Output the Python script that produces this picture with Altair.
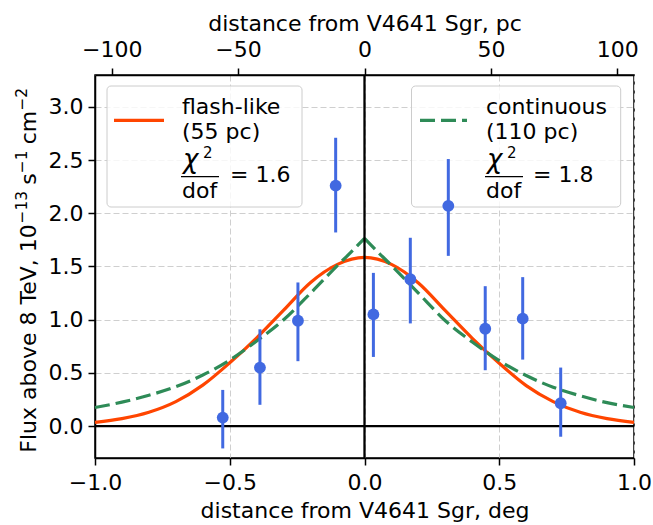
import altair as alt
import pandas as pd

# ---- data ----
pt_x = [-0.526, -0.388, -0.247, -0.107, 0.033, 0.170, 0.311, 0.448, 0.587, 0.728]
pt_flux = [0.08, 0.55, 0.99, 2.26, 1.05, 1.38, 2.07, 0.915, 1.01, 0.215]
pt_lo = [-0.21, 0.20, 0.61, 1.82, 0.65, 0.965, 1.60, 0.525, 0.625, -0.10]
pt_hi = [0.34, 0.91, 1.35, 2.71, 1.44, 1.77, 2.51, 1.315, 1.40, 0.55]

flash_x = [-1.0, -0.9, -0.8, -0.7, -0.6, -0.5, -0.4, -0.3, -0.2, -0.1, 0.0,
           0.1, 0.2, 0.3, 0.4, 0.5, 0.6, 0.7, 0.8, 0.9, 1.0]
flash_y = [0.035, 0.07, 0.13, 0.23, 0.385, 0.595, 0.83, 1.09, 1.35, 1.52, 1.585,
           1.52, 1.345, 1.085, 0.825, 0.59, 0.38, 0.23, 0.13, 0.07, 0.035]

cont_x = [-1.0, -0.9, -0.8, -0.7, -0.6, -0.5, -0.4, -0.3, -0.2, -0.1, -0.05, 0.0,
          0.0, 0.05, 0.1, 0.2, 0.3, 0.4, 0.5, 0.6, 0.7, 0.8, 0.9, 1.0]
cont_y = [0.175, 0.225, 0.29, 0.37, 0.48, 0.62, 0.80, 1.00, 1.25, 1.51, 1.635, 1.765,
          1.765, 1.635, 1.51, 1.25, 0.99, 0.79, 0.615, 0.475, 0.365, 0.285, 0.22, 0.175]
cont_side = ["L"] * 12 + ["R"] * 12

x_ticks = [-1.0, -0.5, 0.0, 0.5, 1.0]
y_ticks = [0.0, 0.5, 1.0, 1.5, 2.0, 2.5, 3.0]
pc_ticks = [-100, -50, 0, 50, 100]
pc_per_deg = 106.6

# y title pieces: (text, is_superscript, advance width in em of the piece)
ytitle_parts = [
    ("Flux above 8 TeV, 10", False, 10.42),
    ("−13", True, 2.08),
    ("s", False, 0.53),
    ("−1", True, 1.45),
    ("cm", False, 1.53),
    ("−2", True, 1.45),
]
ytitle_lead = [0.0, 0.0, 0.30, 0.0, 0.30, 0.0]  # leading space (em, main size)

FONT = "DejaVu Sans"
ORANGE = "#FF4500"
GREEN = "#2E8B57"
BLUE = "#4169E1"
W, H = 539, 383
FS = 22
SUP = 15.4

pts = pd.DataFrame({"x": pt_x, "y": pt_flux, "lo": pt_lo, "hi": pt_hi})
flash = pd.DataFrame({"x": flash_x, "y": flash_y})
cont = pd.DataFrame({"x": cont_x, "y": cont_y, "side": cont_side})
zero = pd.DataFrame({"x": [0.0], "y": [0.0]})
one = pd.DataFrame({"a": [0]})


def xenc(field="x"):
    return alt.X(
        f"{field}:Q",
        scale=alt.Scale(domain=[-1, 1], nice=False, zero=False),
        axis=alt.Axis(
            values=x_ticks, format=".1f", title="distance from V4641 Sgr, deg",
            labelFlush=False, labelOverlap=False, labelBaseline="alphabetic",
            labelPadding=24, titleBaseline="alphabetic", titleY=59, titleX=W / 2,
        ),
    )


def yenc(field="y"):
    return alt.Y(
        f"{field}:Q",
        scale=alt.Scale(domain=[-0.3, 3.3], nice=False, zero=False),
        axis=alt.Axis(values=y_ticks, format=".1f", title=None, labelPadding=5,
                      labelFlush=False),
    )


flash_line = alt.Chart(flash).mark_line(
    color=ORANGE, strokeWidth=3.2, interpolate="monotone"
).encode(x=xenc(), y=yenc())

cont_line = alt.Chart(cont).mark_line(
    color=GREEN, strokeWidth=3.2, strokeDash=[15, 6], interpolate="monotone"
).encode(x=xenc(), y=yenc(), detail="side:N")

vline = alt.Chart(zero).mark_rule(color="black", strokeWidth=2.3).encode(x=xenc())
hline = alt.Chart(zero).mark_rule(color="black", strokeWidth=2.3).encode(y=yenc())


def box(x1, x2, y1, y2):
    return alt.Chart(one).mark_rect(
        fill="white", fillOpacity=0.8, stroke="#cccccc", strokeWidth=1, cornerRadius=4
    ).encode(x=alt.value(x1), x2=alt.value(x2), y=alt.value(y1), y2=alt.value(y2))


def txt(t, x, y, size=FS, style="normal", angle=0):
    kw = dict(text=t, font=FONT, fontSize=size, fontStyle=style, align="left",
              baseline="alphabetic", color="black")
    if angle:
        kw["angle"] = angle
    return alt.Chart(one).mark_text(**kw).encode(x=alt.value(x), y=alt.value(y))


def seg(x1, x2, y, color, width, dash=None):
    kw = dict(color=color, strokeWidth=width)
    if dash:
        kw["strokeDash"] = dash
    return alt.Chart(one).mark_rule(**kw).encode(
        x=alt.value(x1), x2=alt.value(x2), y=alt.value(y)
    )


legend_layers = [
    box(12, 207, 11, 132),
    seg(19, 69, 45.3, ORANGE, 3.2),
    txt("flash-like", 87, 38.5),
    txt("(55 pc)", 87, 64),
    txt("χ", 88, 93, 26, "italic"),
    txt("2", 108, 83, 15),
    seg(86, 124, 101.7, "black", 1.2),
    txt("dof", 87, 122.5),
    txt("= 1.6", 135, 107),
    box(316.5, 525.7, 11, 132),
    seg(325, 372, 45.3, GREEN, 3.2, [15, 6]),
    txt("continuous", 391, 38.5),
    txt("(110 pc)", 391, 64),
    txt("χ", 392, 93, 26, "italic"),
    txt("2", 412, 83, 15),
    seg(390, 428, 101.7, "black", 1.2),
    txt("dof", 391, 122.5),
    txt("= 1.8", 438, 107),
]

# rotated y-axis title built from pieces (mathtext-like superscripts)
widths = []
for (t, sup, em), lead in zip(ytitle_parts, ytitle_lead):
    widths.append(lead * FS + em * (SUP if sup else FS))
total = sum(widths)
ypos = H / 2 + 4 + total / 2
title_layers = []
for (t, sup, em), lead in zip(ytitle_parts, ytitle_lead):
    ypos -= lead * FS
    title_layers.append(
        txt(t, -59 - (9 if sup else 0), ypos, SUP if sup else FS, angle=270)
    )
    ypos -= em * (SUP if sup else FS)

errbars = alt.Chart(pts).mark_rule(color=BLUE, strokeWidth=3).encode(
    x=xenc(), y=yenc("lo"), y2="hi:Q"
)
dots = alt.Chart(pts).mark_circle(color=BLUE, size=140, opacity=1).encode(
    x=xenc(), y=yenc()
)

main = alt.layer(flash_line, cont_line, vline, hline, *legend_layers, *title_layers,
                 errbars, dots)

top = alt.Chart(pd.DataFrame({"pc": pc_ticks})).mark_point(opacity=0).encode(
    x=alt.X(
        "pc:Q",
        scale=alt.Scale(domain=[-pc_per_deg, pc_per_deg], nice=False, zero=False),
        axis=alt.Axis(
            orient="top", values=pc_ticks, format="d", grid=False,
            title="distance from V4641 Sgr, pc", labelFlush=False,
            labelBaseline="alphabetic", labelPadding=12,
            titleBaseline="alphabetic", titleY=-45, titleX=W / 2,
        ),
    )
)

chart = (
    alt.layer(main, top)
    .resolve_scale(x="independent")
    .properties(
        width=W, height=H,
        autosize=alt.AutoSizeParams(type="none"),
        padding={"left": 95, "top": 75, "right": 19, "bottom": 67},
    )
    .configure_view(stroke="black", strokeWidth=1.5)
    .configure_axis(
        labelFont=FONT, titleFont=FONT, labelFontSize=FS, titleFontSize=FS,
        titleFontWeight="normal", labelColor="black", titleColor="black",
        domainColor="black", domainWidth=1.5, tickColor="black", tickWidth=1.5,
        tickSize=7, gridColor="#cfcfcf", gridDash=[6, 3], gridWidth=1,
    )
)

chart.save("out.html", embed_options={"renderer": "svg", "actions": False})
